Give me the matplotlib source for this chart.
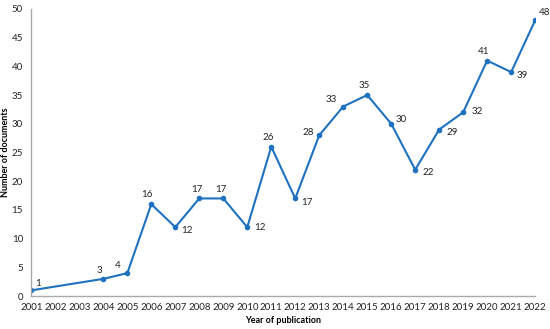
import matplotlib
matplotlib.use('Agg')
import matplotlib.pyplot as plt

years = [2001, 2004, 2005, 2006, 2007, 2008, 2009, 2010, 2011, 2012, 2013,
         2014, 2015, 2016, 2017, 2018, 2019, 2020, 2021, 2022]
docs = [1, 3, 4, 16, 12, 17, 17, 12, 26, 17, 28, 33, 35, 30, 22, 29, 32, 41, 39, 48]
# where each value label sits relative to its point (points)
label_offsets = {2001: (3, 3), 2004: (-5, 4), 2005: (-9, 4), 2006: (-7, 5), 2007: (4, -4),
                 2008: (-6, 5), 2009: (-6, 5), 2010: (5, -2), 2011: (-6, 5), 2012: (4, -5),
                 2013: (-12, 0), 2014: (-13, 3), 2015: (-6, 5), 2016: (3, 1), 2017: (5, -4),
                 2018: (5, -4), 2019: (6, -1), 2020: (-7, 5), 2021: (4, -4), 2022: (3, 4)}
xticks = list(range(2001, 2023))

plt.rcParams['font.family'] = ['Lato', 'DejaVu Sans']

fig = plt.figure(figsize=(5.5, 3.29), dpi=100)
ax = fig.add_axes([0.057, 0.1, 0.916, 0.873])

color = '#1f72bf'
ax.plot(years, docs, color=color, linewidth=1.5, marker='o', markersize=3)

for x, y in zip(years, docs):
    dx, dy = label_offsets[x]
    ax.annotate(str(y), (x, y), xytext=(dx, dy), textcoords='offset points',
                fontsize=7, color='#222222')

ax.set_xlim(2001, 2022)
ax.set_ylim(0, 50)
ax.set_xticks(xticks)
ax.set_xticklabels([str(t) for t in xticks])
ax.set_yticks(range(0, 51, 5))
ax.tick_params(axis='both', length=0, labelsize=7, colors='#222222')
ax.tick_params(axis='x', pad=5)
ax.tick_params(axis='y', pad=6)

for s in ['top', 'right']:
    ax.spines[s].set_visible(False)
for s in ['left', 'bottom']:
    ax.spines[s].set_color('#aaaaaa')
    ax.spines[s].set_linewidth(1)

ax.set_xlabel('Year of publication', fontsize=6.5, fontweight='bold', labelpad=3)
ax.set_ylabel('Number of documents', fontsize=6.5, fontweight='bold', labelpad=1)

fig.savefig('out.png', dpi=100)
